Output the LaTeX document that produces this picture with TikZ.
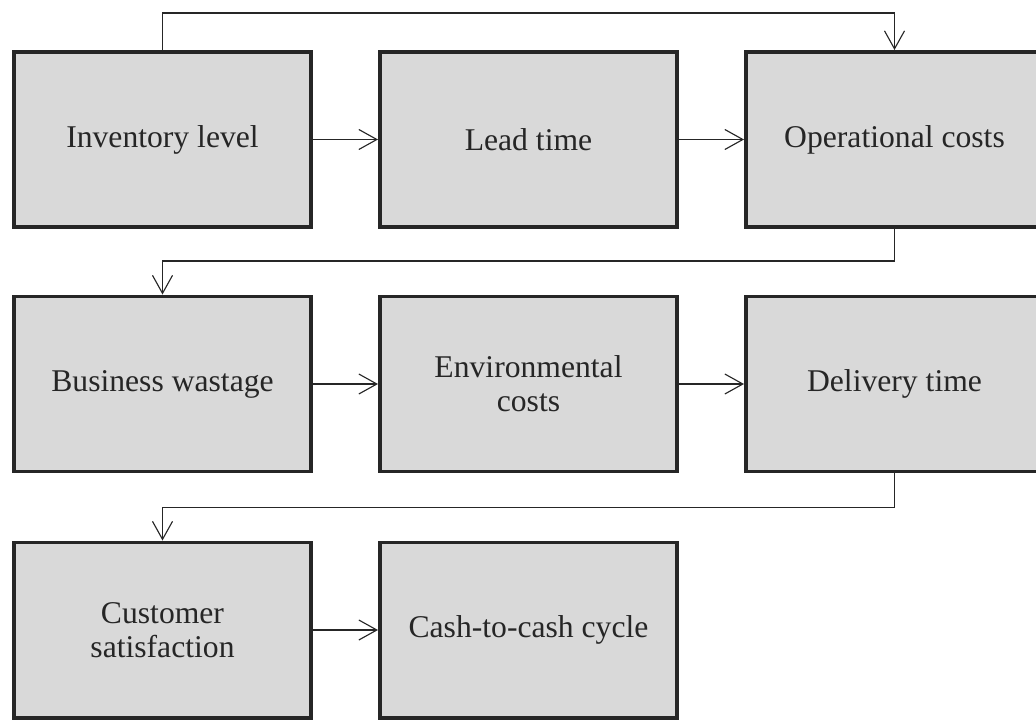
\documentclass[tikz,border=0pt]{standalone}
\usepackage{fontspec}
\setmainfont{Liberation Serif}
\usepackage{xcolor}
\usetikzlibrary{arrows.meta,positioning}

\definecolor{boxfill}{HTML}{D9D9D9}
\definecolor{boxline}{HTML}{262626}

\begin{document}
\begin{tikzpicture}[
    x=0.025cm, y=-0.025cm,
    font=\fontsize{22.5}{24}\selectfont,
    >={Straight Barb[length=4.5mm, width=5mm, line width=0.8pt]},
    stage/.style={draw=boxline, fill=boxfill, line width=2.8pt,
                  minimum width=7.425cm, minimum height=4.375cm,
                  align=center, text=boxline, inner sep=2pt},
    edge/.style={->, line width=0.8pt, draw=boxline}
]
\useasboundingbox (0,0) rectangle (1036,722);
\clip (0,0) rectangle (1036,722);

% --- Row 1 ---
\node[stage] (inv)   at (162.5,139.5) {Inventory level};
\node[stage] (lead)  at (528.5,139.5) {Lead time};
\node[stage] (ops)   at (894.5,139.5) {Operational costs};

% --- Row 2 ---
\node[stage] (waste) at (162.5,384) {Business wastage};
\node[stage] (env)   at (528.5,384) {Environmental\\costs};
\node[stage] (deliv) at (894.5,384) {Delivery time};

% --- Row 3 ---
\node[stage] (cust)  at (162.5,630) {Customer\\satisfaction};
\node[stage] (cash)  at (528.5,630) {Cash-to-cash cycle};

% Arrows within rows
\draw[edge] (inv)   -- (lead);
\draw[edge] (lead)  -- (ops);
\draw[edge] (waste) -- (env);
\draw[edge] (env)   -- (deliv);
\draw[edge] (cust)  -- (cash);

% Arrows between rows
\draw[edge] (inv.north)   -- ++(0,-37) -| (ops.north);
\draw[edge] (ops.south)   -- ++(0,32)  -| (waste.north);
\draw[edge] (deliv.south) -- ++(0,34)  -| (cust.north);

\end{tikzpicture}
\end{document}
